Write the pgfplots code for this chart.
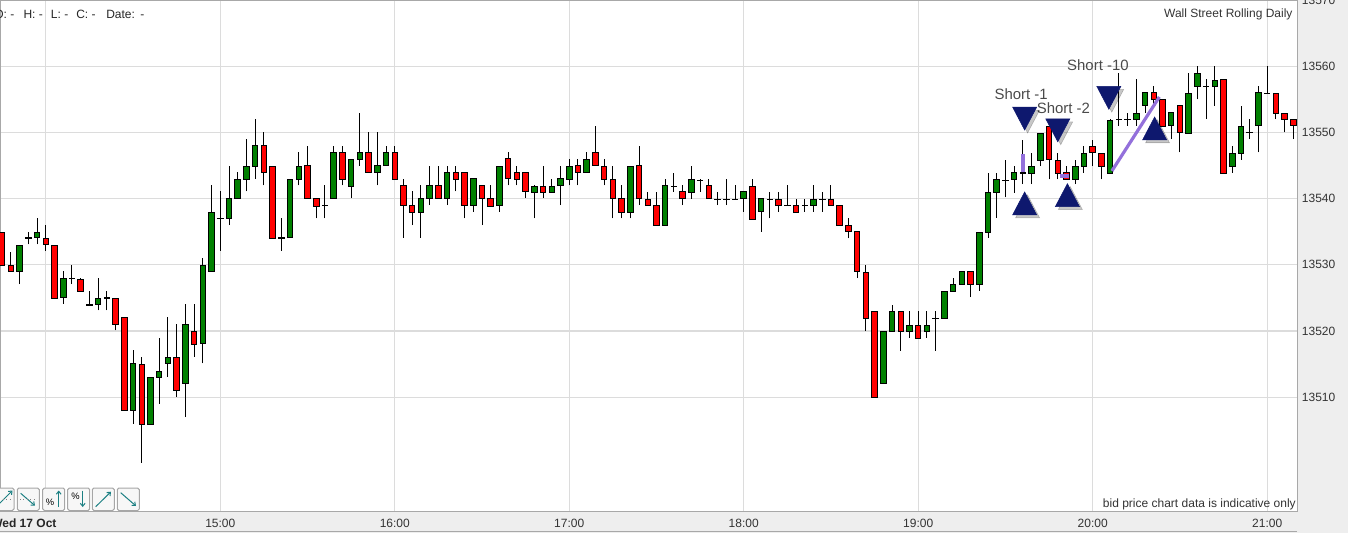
\documentclass[border=0pt]{standalone}
\usepackage{fontspec}
\setmainfont{Liberation Sans}
\usepackage{pgfplots}
\pgfplotsset{compat=1.18}
\usepackage{pgfplotstable}
\usetikzlibrary{arrows.meta}

\definecolor{upgreen}{HTML}{008000}
\definecolor{downred}{HTML}{FF0000}
\definecolor{gridgray}{HTML}{DCDCDC}
\definecolor{framegray}{HTML}{A8A8A8}
\definecolor{bandgray}{HTML}{EEEEEE}
\definecolor{signalblue}{HTML}{0E186E}
\definecolor{tradeline}{HTML}{9370DB}
\definecolor{labelgray}{HTML}{4A4A4A}
\definecolor{ticktext}{HTML}{333333}
\definecolor{iconteal}{HTML}{1B7F82}

% 3-minute candles, k=0 is 13:45
\pgfplotstableread{
k o h l c
0 13535.0 13535.0 13530.0 13530.0
1 13530.0 13532.0 13529.1 13529.1
2 13529.1 13533.0 13527.1 13533.0
3 13534.1 13534.9 13533.1 13534.1
4 13534.1 13537.0 13533.1 13535.0
5 13534.1 13536.0 13532.1 13533.1
6 13533.0 13533.0 13525.0 13525.0
7 13525.0 13529.0 13524.1 13528.0
8 13528.0 13530.0 13527.1 13528.0
9 13528.0 13528.0 13526.1 13526.1
10 13524.1 13526.1 13524.1 13524.1
11 13524.1 13528.0 13523.1 13525.0
12 13525.0 13526.1 13523.1 13525.0
13 13525.0 13525.0 13520.1 13521.1
14 13522.1 13522.1 13508.0 13508.0
15 13508.0 13517.1 13506.0 13515.1
16 13515.1 13516.1 13500.1 13506.0
17 13506.0 13513.1 13506.0 13513.1
18 13513.1 13519.0 13509.0 13514.0
19 13515.1 13522.1 13513.1 13516.0
20 13516.0 13521.1 13510.1 13511.1
21 13512.1 13524.1 13507.0 13521.1
22 13520.1 13524.1 13516.1 13518.1
23 13518.1 13531.0 13515.1 13530.0
24 13529.1 13542.0 13529.1 13538.0
25 13537.0 13541.1 13532.1 13537.0
26 13537.0 13545.0 13536.0 13540.1
27 13540.1 13544.0 13540.1 13543.0
28 13543.0 13549.0 13541.1 13545.0
29 13545.0 13552.0 13543.0 13548.1
30 13548.1 13550.0 13542.0 13544.0
31 13545.0 13545.0 13534.1 13534.1
32 13534.1 13537.0 13532.1 13534.1
33 13534.1 13543.0 13534.1 13543.0
34 13543.0 13547.0 13542.0 13545.0
35 13545.0 13548.0 13540.1 13540.1
36 13540.1 13540.1 13537.0 13539.0
37 13539.0 13542.0 13537.0 13539.0
38 13540.1 13548.0 13540.1 13547.0
39 13547.0 13548.0 13542.0 13543.0
40 13542.0 13546.0 13540.1 13546.0
41 13546.0 13553.0 13545.0 13547.0
42 13547.0 13550.0 13544.0 13544.0
43 13544.0 13550.0 13542.0 13545.0
44 13545.0 13548.0 13545.0 13547.0
45 13547.0 13548.0 13543.0 13543.0
46 13542.0 13543.0 13534.1 13539.0
47 13539.0 13541.1 13536.0 13538.0
48 13538.0 13542.0 13534.1 13540.1
49 13540.1 13545.0 13539.0 13542.0
50 13542.0 13545.0 13540.1 13540.1
51 13540.1 13545.0 13539.0 13544.0
52 13544.0 13545.0 13541.1 13543.0
53 13544.0 13544.0 13537.0 13539.0
54 13539.0 13543.0 13538.0 13543.0
55 13542.0 13542.0 13536.0 13540.1
56 13540.1 13542.0 13539.0 13539.0
57 13539.0 13545.0 13538.0 13545.0
58 13546.0 13547.0 13542.0 13543.0
59 13544.0 13545.0 13542.0 13543.0
60 13544.0 13544.0 13540.1 13541.1
61 13541.1 13542.0 13537.0 13542.0
62 13542.0 13545.0 13540.1 13541.1
63 13541.1 13543.0 13541.1 13542.0
64 13542.0 13545.0 13539.0 13543.0
65 13543.0 13546.0 13542.0 13545.0
66 13545.0 13546.0 13542.0 13544.0
67 13544.0 13547.0 13544.0 13546.0
68 13547.0 13551.0 13545.0 13545.0
69 13545.0 13546.0 13542.0 13543.0
70 13543.0 13545.0 13537.0 13540.1
71 13540.1 13542.0 13537.0 13538.0
72 13538.0 13545.0 13537.0 13545.0
73 13545.0 13548.0 13539.0 13540.1
74 13540.0 13541.0 13539.0 13539.0
75 13539.0 13541.0 13536.0 13536.0
76 13536.0 13542.9 13536.0 13542.0
77 13542.0 13543.9 13541.0 13542.0
78 13541.0 13542.0 13539.0 13540.0
79 13541.0 13544.9 13540.0 13542.9
80 13542.9 13542.9 13541.0 13542.9
81 13542.0 13542.9 13540.0 13540.0
82 13540.0 13541.0 13539.0 13540.0
83 13540.0 13542.9 13539.0 13540.0
84 13540.0 13542.0 13540.0 13540.0
85 13540.0 13541.0 13538.0 13541.0
86 13542.0 13542.9 13537.0 13537.0
87 13538.0 13540.0 13535.0 13540.0
88 13540.0 13541.0 13537.0 13540.0
89 13540.0 13541.0 13538.0 13539.0
90 13539.0 13542.0 13539.0 13539.0
91 13539.0 13540.0 13538.0 13538.0
92 13539.0 13540.0 13538.0 13539.0
93 13539.0 13542.0 13538.0 13540.0
94 13540.0 13541.0 13538.0 13540.0
95 13540.0 13542.0 13539.0 13539.0
96 13539.0 13539.0 13536.0 13536.0
97 13536.0 13537.0 13534.0 13535.0
98 13535.0 13535.0 13528.0 13529.0
99 13529.0 13530.0 13520.0 13522.0
100 13523.0 13523.0 13510.0 13510.0
101 13512.0 13520.0 13512.0 13520.0
102 13520.0 13524.0 13520.0 13523.0
103 13523.0 13523.0 13517.0 13520.0
104 13520.0 13523.0 13519.0 13521.0
105 13521.0 13523.0 13519.0 13519.0
106 13520.0 13523.0 13519.0 13521.0
107 13522.0 13523.0 13517.0 13522.0
108 13522.0 13526.0 13522.0 13526.0
109 13526.0 13528.0 13526.0 13527.0
110 13527.0 13529.0 13527.0 13529.0
111 13529.0 13529.0 13525.1 13527.1
112 13527.1 13535.0 13526.1 13535.0
113 13535.0 13543.9 13534.1 13540.9
114 13540.9 13543.9 13537.1 13542.9
115 13542.9 13545.9 13540.2 13542.9
116 13542.9 13544.9 13540.9 13543.9
117 13543.9 13548.9 13542.2 13543.9
118 13543.9 13546.9 13542.2 13544.9
119 13545.9 13549.9 13544.9 13549.9
120 13551.0 13551.0 13542.9 13545.9
121 13545.9 13546.9 13542.9 13543.9
122 13543.9 13544.9 13542.9 13542.9
123 13542.9 13545.9 13542.2 13544.9
124 13544.9 13547.9 13543.9 13546.9
125 13547.9 13548.9 13544.9 13546.9
126 13546.9 13546.9 13542.9 13544.9
127 13543.9 13552.0 13543.9 13552.0
128 13552.0 13559.0 13551.0 13552.0
129 13552.0 13553.0 13551.0 13552.0
130 13552.0 13558.0 13551.0 13553.0
131 13554.0 13556.0 13553.0 13556.0
132 13556.0 13557.0 13554.0 13555.0
133 13555.0 13555.0 13551.0 13551.0
134 13551.0 13553.0 13549.0 13553.0
135 13554.0 13554.0 13547.0 13550.0
136 13550.0 13559.0 13550.0 13556.0
137 13557.0 13560.0 13555.0 13559.0
138 13557.0 13558.0 13552.0 13557.0
139 13557.0 13560.0 13554.0 13558.0
140 13558.0 13558.0 13543.9 13543.9
141 13544.9 13547.9 13543.9 13546.9
142 13546.9 13554.0 13545.9 13551.0
143 13550.0 13552.0 13549.0 13550.0
144 13551.0 13557.0 13547.0 13556.0
145 13556.0 13560.0 13556.0 13556.0
146 13556.0 13556.0 13552.0 13553.0
147 13553.0 13553.0 13550.0 13552.0
148 13552.0 13552.0 13549.0 13551.0
}\candles

\begin{document}
\begin{tikzpicture}
\useasboundingbox (0pt,-16.5pt) rectangle (1011pt,383.25pt);
\clip (0pt,-16.5pt) rectangle (1011pt,383.25pt);
\fill[bandgray] (972.75pt,-16.5pt) rectangle (1011pt,383.25pt);
\fill[bandgray] (0pt,-16.5pt) rectangle (1011pt,0pt);
\draw[framegray, line width=0.75pt] (0pt,-15.6pt) -- (972.75pt,-15.6pt);

\begin{axis}[
    at={(0pt,0pt)}, anchor=south west, scale only axis,
    width=972.75pt, height=383.25pt,
    xmin=-0.2522, xmax=148.42,
    ymin=13492.81, ymax=13570,
    axis line style={framegray, line width=0.75pt},
    major tick length=0pt,
    xtick={5,25,45,65,85,105,125,145},
    xticklabels={,15:00,16:00,17:00,18:00,19:00,20:00,21:00},
    ytick={13510,13520,13530,13540,13550,13560,13570},
    yticklabels={13510,13520,13530,13540,13550,13560,13570},
    yticklabel pos=right,
    xticklabel style={anchor=base, inner sep=0pt, yshift=-12.5pt, font=\fontsize{9}{10}\selectfont, text=ticktext},
    yticklabel style={anchor=west, inner sep=0pt, xshift=3.5pt, font=\fontsize{9}{10}\selectfont, text=ticktext},
    xmajorgrids=true, ymajorgrids=true,
    grid style={gridgray, line width=0.9pt},
    candle/.style={draw=none, mark=none, error bars/.cd, y dir=both, y explicit, error mark=none},
]
% wicks
\addplot[draw=none, mark=none, error bars/.cd, y dir=plus, y explicit, error mark=none,
    error bar style={draw=black, line width=0.75pt}]
    table[x=k, y=l, y error expr=\thisrow{h}-\thisrow{l}] {\candles};
% body outlines
\addplot[candle, error bar style={draw=black, line width=4.875pt}]
    table[x=k, y expr={(\thisrow{o}+\thisrow{c})/2}, y error expr={abs(\thisrow{c}-\thisrow{o})/2+0.075}] {\candles};
% rising bodies
\addplot[candle, error bar style={draw=upgreen, line width=3.375pt}]
    table[x=k, y expr={\thisrow{c}>\thisrow{o} ? (\thisrow{o}+\thisrow{c})/2 : nan}, y error expr={max(abs(\thisrow{c}-\thisrow{o})/2-0.075,0)}] {\candles};
% falling bodies
\addplot[candle, error bar style={draw=downred, line width=3.375pt}]
    table[x=k, y expr={\thisrow{c}<\thisrow{o} ? (\thisrow{o}+\thisrow{c})/2 : nan}, y error expr={max(abs(\thisrow{c}-\thisrow{o})/2-0.075,0)}] {\candles};

% trade lines
\addplot[tradeline, line width=3.2pt] coordinates {(117,13546.71) (117,13544.04)};
\addplot[tradeline, line width=3pt] coordinates {(121.3,13543.38) (122.3,13543.38)};
\addplot[tradeline, line width=2.4pt] coordinates {(127.2,13544.18) (132.64,13555.36)};

% signal shadows
\addplot[only marks, mark=triangle*, mark size=10.4pt, mark options={xshift=2.2pt, yshift=-2.2pt, yscale=1.1, fill=black, draw=none, opacity=0.22}]
    coordinates {(117.2,13538.70) (122.1,13539.95) (132.1,13550.03)};
\addplot[only marks, mark=triangle*, mark size=10.4pt, mark options={xshift=2.2pt, yshift=-2.2pt, rotate=180, yscale=1.1, fill=black, draw=none, opacity=0.22}]
    coordinates {(117.2,13552.66) (121.0,13550.89) (126.85,13555.80)};
% signals
\addplot[only marks, mark=triangle*, mark size=10.4pt, mark options={yscale=1.1, fill=signalblue, draw=signalblue}]
    coordinates {(117.2,13538.70) (122.1,13539.95) (132.1,13550.03)};
\addplot[only marks, mark=triangle*, mark size=10.4pt, mark options={rotate=180, yscale=1.1, fill=signalblue, draw=signalblue}]
    coordinates {(117.2,13552.66) (121.0,13550.89) (126.85,13555.80)};

\node[inner sep=0pt, text=labelgray, font=\fontsize{11.2}{12}\selectfont] at (axis cs:116.8,13555.77) {Short -1};
\node[inner sep=0pt, text=labelgray, font=\fontsize{11.2}{12}\selectfont] at (axis cs:121.65,13553.59) {Short -2};
\node[inner sep=0pt, text=labelgray, font=\fontsize{11.2}{12}\selectfont] at (axis cs:125.6,13560.1) {Short -10};
\end{axis}

% pixel-based decorations
\begin{scope}[shift={(0pt,383.25pt)}, x=0.75pt, y=-0.75pt]
\begin{scope}[font=\fontsize{9}{10}\selectfont, text=black!85]
\node[anchor=base west, inner sep=0pt] at (-6,18.3) {O: -};
\node[anchor=base west, inner sep=0pt] at (23.3,18.3) {H: -};
\node[anchor=base west, inner sep=0pt] at (50.7,18.3) {L: -};
\node[anchor=base west, inner sep=0pt] at (76,18.3) {C: -};
\node[anchor=base west, inner sep=0pt] at (106,18.3) {Date:};
\node[anchor=base west, inner sep=0pt] at (140,18.3) {-};
\end{scope}
\node[anchor=base east, inner sep=0pt, font=\fontsize{9}{10}\selectfont, text=black!80] at (1292.7,17.3) {Wall Street Rolling Daily};
\node[anchor=base east, inner sep=0pt, font=\fontsize{9}{10}\selectfont, text=black!80] at (1296,507.8) {bid price chart data is indicative only};
\node[anchor=base east, inner sep=0pt, font=\bfseries\fontsize{9}{10}\selectfont, text=black!85] at (56.7,527.5) {Wed 17 Oct};

% toolbar
\foreach \bx in {-8,17.3,42.7,67.7,92.3,117.3}
  \draw[gray!70, fill=gray!6, rounded corners=1.2pt, line width=0.75pt] (\bx,488) rectangle ++(22,22.5);
\begin{scope}[iconteal, line width=0.75pt, -{Straight Barb[length=2.2pt,width=3.6pt]}]
\draw (-2,505) -- (12.5,490.5);
\draw (20.7,493.3) -- (35,505.7);
\draw (58.7,507) -- (58.7,490.5);
\draw (82.7,490.5) -- (82.7,507);
\draw (95.7,506.7) -- (111,491.7);
\draw (120.7,492.7) -- (136,506);
\end{scope}
\draw[gray, dotted, line width=0.6pt] (-4,499.3) -- (10,499.3);
\draw[gray, dotted, line width=0.6pt] (20,499.3) -- (34,499.3);
\node[inner sep=0pt, font=\fontsize{7}{8}\selectfont] at (50,502) {\%};
\node[inner sep=0pt, font=\fontsize{7}{8}\selectfont] at (75.5,496) {\%};
\end{scope}
\end{tikzpicture}
\end{document}
